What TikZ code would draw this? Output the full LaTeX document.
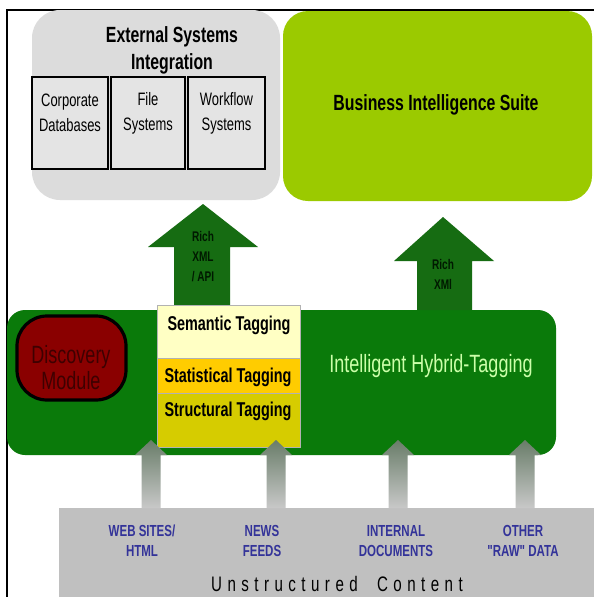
\documentclass[tikz,border=0pt]{standalone}
\usepackage{fontspec}
\setmainfont{Liberation Sans}
\newfontfamily\cond{Liberation Sans}[FakeStretch=0.72]
\definecolor{extgrey}{RGB}{220,220,220}
\definecolor{subgrey}{RGB}{228,228,228}
\definecolor{bigreen}{RGB}{155,202,0}
\definecolor{bandgreen}{RGB}{10,122,10}
\definecolor{arrowgreen}{RGB}{22,108,18}
\definecolor{discred}{RGB}{138,0,0}
\definecolor{disctext}{RGB}{62,0,0}
\definecolor{semfill}{RGB}{255,255,196}
\definecolor{statfill}{RGB}{255,204,0}
\definecolor{strucfill}{RGB}{214,204,0}
\definecolor{hybridtext}{RGB}{204,255,170}
\definecolor{bottomgrey}{RGB}{192,192,192}
\definecolor{srctext}{RGB}{51,51,153}
\definecolor{arrowtop}{RGB}{105,125,105}
\definecolor{arrowbot}{RGB}{200,200,200}
\tikzset{
  plain/.style={inner sep=0pt, outer sep=0pt, anchor=north west},
  subbox/.style={plain, draw=black, line width=2.5pt, fill=subgrey, minimum height=92pt},
  subtext/.style={font=\cond\fontsize{18}{25}\selectfont, align=center, inner sep=0pt},
  tagbox/.style={plain, draw=black!30, line width=0.6pt, minimum width=143pt},
  tagtext/.style={font=\cond\bfseries\fontsize{20}{22}\selectfont, inner sep=0pt},
  arrowtxt/.style={font=\cond\bfseries\fontsize{14}{20}\selectfont, text=black!90!green, align=center, inner sep=0pt},
  srclabel/.style={font=\cond\bfseries\fontsize{16}{20}\selectfont, text=srctext, align=center, inner sep=0pt},
}
\begin{document}
\begin{tikzpicture}[x=1pt,y=-1pt]
\useasboundingbox (0,0) rectangle (594,597);
\fill[white] (0,0) rectangle (594,597);
\draw[line width=1.2pt] (7,597) -- (7,10) -- (594,10);

% External systems box
\node[plain, fill=extgrey, rounded corners=28pt, minimum width=248pt, minimum height=190pt] (ext) at (32,10) {};
\node[font=\cond\bfseries\fontsize{22}{27}\selectfont, align=center, inner sep=0pt] (exttitle) at (172,50) {External Systems\\Integration};
\node[subbox, minimum width=76pt] (corp) at (32,77) {};
\node[subbox, minimum width=74pt] (file) at (111,77) {};
\node[subbox, minimum width=77pt] (work) at (188,77) {};
\node[subtext] (corpt) at (70,113) {Corporate\\Databases};
\node[subtext] (filet) at (148,113) {File\\Systems};
\node[subtext] (workt) at (226.5,113) {Workflow\\Systems};

% Business intelligence
\node[plain, fill=bigreen, rounded corners=25pt, minimum width=309pt, minimum height=190pt] (bi) at (283,11) {};
\node[font=\cond\bfseries\fontsize{22}{24}\selectfont, inner sep=0pt] (bit) at (436,105) {Business Intelligence Suite};

% Hybrid tagging band
\node[plain, fill=bandgreen, rounded corners=18pt, minimum width=549pt, minimum height=145pt] (band) at (7,310) {};

% Big green arrows
\fill[arrowgreen] (174,305) -- (174,247) -- (148,247) -- (203,204) -- (258,247) -- (230,247) -- (230,305) -- cycle;
\node[arrowtxt] (a1t) at (203,257) {Rich\\XML\\/ API};
\fill[arrowgreen] (417,310) -- (417,261) -- (394,261) -- (443,217) -- (494,261) -- (472,261) -- (472,310) -- cycle;
\node[arrowtxt] (a2t) at (443,274) {Rich\\XMl};

% Discovery module
\node[plain, fill=discred, draw=black, line width=3.2pt, rounded corners=30pt, minimum width=109pt, minimum height=84pt] (disc) at (17,316) {};
\node[font=\cond\fontsize{25}{26}\selectfont, text=disctext, align=center, inner sep=0pt] (disct) at (71,368) {Discovery\\Module};

% Tagging stack
\node[tagbox, fill=semfill, minimum height=53pt] (sem) at (157,305) {};
\node[tagbox, fill=statfill, minimum height=35pt] (stat) at (157,358) {};
\node[tagbox, fill=strucfill, minimum height=54pt] (struc) at (157,393) {};
\node[tagtext] (semt) at (229,325) {Semantic Tagging};
\node[tagtext] (statt) at (228,377) {Statistical Tagging};
\node[tagtext] (struct) at (228,411) {Structural Tagging};

\node[font=\cond\fontsize{25}{26}\selectfont, text=hybridtext, inner sep=0pt] (hyb) at (431,366) {Intelligent Hybrid-Tagging};

% Unstructured content
\node[plain, fill=bottomgrey, minimum width=535pt, minimum height=89pt] (unst) at (59,508) {};
\foreach \cx/\nm in {151/g1,276/g2,398/g3,525/g4}{
  \coordinate (\nm) at (\cx,440);
  \shade[top color=arrowtop, bottom color=arrowbot]
    ([xshift=-9.5pt]\nm |- unst.north) -- ([xshift=-9.5pt,yshift=-15pt]\nm) -- ([xshift=-16pt,yshift=-15pt]\nm) -- (\nm) -- ([xshift=16pt,yshift=-15pt]\nm) -- ([xshift=9.5pt,yshift=-15pt]\nm) -- ([xshift=9.5pt]\nm |- unst.north) -- cycle;
}
\node[srclabel] (s1) at (142,541) {WEB SITES/\\HTML};
\node[srclabel] (s2) at (262,541) {NEWS\\FEEDS};
\node[srclabel] (s3) at (396,541) {INTERNAL\\DOCUMENTS};
\node[srclabel] (s4) at (523,541) {OTHER\\"RAW" DATA};
\node[font=\cond\addfontfeature{LetterSpace=26}\fontsize{21}{22}\selectfont, inner sep=0pt] (unstt) at (337,584) {Unstructured\ \ Content};
\end{tikzpicture}
\end{document}
